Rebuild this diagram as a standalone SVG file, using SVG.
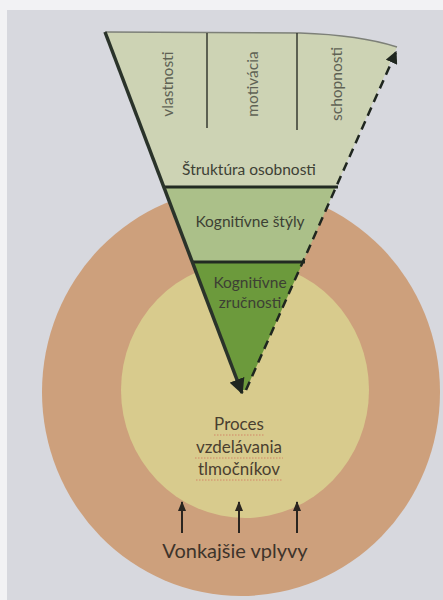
<svg xmlns="http://www.w3.org/2000/svg" width="443" height="600" viewBox="0 0 443 600">
  <defs>
    <marker id="ahDown" viewBox="0 0 10 10" refX="9" refY="5" markerWidth="4.5" markerHeight="4.5" orient="auto" markerUnits="strokeWidth">
      <path d="M0,0 L10,5 L0,10 Z" fill="#1f261f"/>
    </marker>
    <marker id="ahUpDash" viewBox="0 0 10 10" refX="9" refY="5" markerWidth="5" markerHeight="5" orient="auto" markerUnits="strokeWidth">
      <path d="M0,0 L10,5 L0,10 Z" fill="#1f261f"/>
    </marker>
    <marker id="ahSmall" viewBox="0 0 10 10" refX="9" refY="5" markerWidth="5" markerHeight="5" orient="auto" markerUnits="strokeWidth">
      <path d="M0,1 L10,5 L0,9 Z" fill="#2a2520"/>
    </marker>
    <style>
      .t { font-family: Lato, "Open Sans", "Liberation Sans", sans-serif; fill: #3d4034; text-anchor: middle; }
      .v { font-size: 15.5px; fill: #5f6254; }
      .m { font-size: 15.5px; }
      .b { font-size: 17px; fill: #4a3f30; }
      .squig { fill: none; stroke: #d06a5a; stroke-width: 1; stroke-dasharray: 1.5 1.5; opacity: 0.7; }
      .divider { stroke: #222a22; stroke-width: 3; }
      .thin { stroke: #2b2f28; stroke-width: 1.4; }
      .up { stroke: #2a2520; stroke-width: 2; fill: none; }
    </style>
  </defs>

  <!-- background (photo of page) -->
  <rect x="0" y="0" width="443" height="600" fill="#d7d8de"/>
  <rect x="0" y="0" width="443" height="10" fill="#f2f2f4"/>
  <rect x="0" y="0" width="7" height="600" fill="#f2f2f4"/>

  <g id="outer-circle">
    <ellipse cx="241" cy="392" rx="199" ry="204" fill="#cda07c"/>
  </g>
  <g id="inner-circle">
    <ellipse cx="245" cy="390" rx="124" ry="128" fill="#d8cb8d"/>
    <text class="t b" x="239" y="430">Proces</text>
    <text class="t b" x="239" y="453">vzdelávania</text>
    <text class="t b" x="239" y="475">tlmočníkov</text>
    <path class="squig" d="M214,435 L264,435"/>
    <path class="squig" d="M195,458 L283,458"/>
    <path class="squig" d="M196,480 L282,480"/>
  </g>

  <g id="struktura-osobnosti">
    <path d="M105,32 L300,33 Q360,35 397,47 L336,187 L164,187 Z" fill="#cdd3b4"/>
    <path d="M105,32 L300,33 Q360,35 397,47" fill="none" stroke="#7d8078" stroke-width="1.5"/>
    <line class="thin" x1="207" y1="33" x2="207" y2="128"/>
    <line class="thin" x1="297" y1="33" x2="297" y2="130"/>
    <text class="t v" transform="translate(173,84) rotate(-90)">vlastnosti</text>
    <text class="t v" transform="translate(258,84) rotate(-90)">motivácia</text>
    <text class="t v" transform="translate(342,84) rotate(-90)">schopnosti</text>
    <text class="t m" x="249" y="175">Štruktúra osobnosti</text>
  </g>

  <g id="kognitivne-styly">
    <path d="M164,187 L336,187 L303,262 L193,262 Z" fill="#abc089"/>
    <text class="t m" x="250" y="227">Kognitívne štýly</text>
  </g>

  <g id="kognitivne-zrucnosti">
    <path d="M193,262 L303,262 L246,390 L242,390 Z" fill="#6c9a3c"/>
    <text class="t m" x="250" y="288">Kognitívne</text>
    <text class="t m" x="250" y="308">zručnosti</text>
  </g>

  <g id="vonkajsie-vplyvy">
    <text class="t" x="235" y="558" style="font-size:20px; fill:#3e342b">Vonkajšie vplyvy</text>
  </g>

  <g id="connectors">
    <line class="divider" x1="163" y1="187" x2="338" y2="187"/>
    <line class="divider" x1="192" y1="262" x2="305" y2="262"/>
    <line x1="105" y1="32" x2="242" y2="393" stroke="#2a332a" stroke-width="3.5" marker-end="url(#ahDown)"/>
    <line x1="246" y1="390" x2="396" y2="52" stroke="#1f261f" stroke-width="2.5" stroke-dasharray="9 6" marker-end="url(#ahUpDash)"/>
    <line class="up" x1="182" y1="533" x2="182" y2="502" marker-end="url(#ahSmall)"/>
    <line class="up" x1="239" y1="533" x2="239" y2="502" marker-end="url(#ahSmall)"/>
    <line class="up" x1="297" y1="533" x2="297" y2="502" marker-end="url(#ahSmall)"/>
  </g>
</svg>
